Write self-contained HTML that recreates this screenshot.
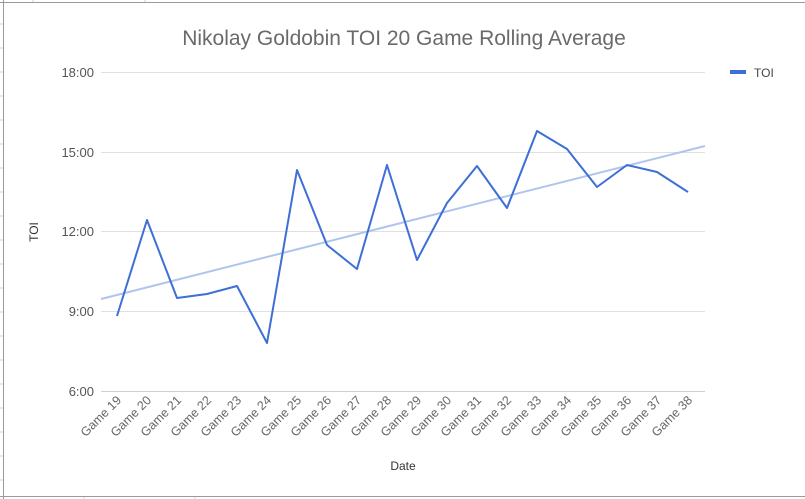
<!DOCTYPE html><html><head><style>body{margin:0;background:#fff}svg{display:block}text{font-family:"Liberation Sans",Arial,sans-serif}</style></head><body>
<svg width="805" height="499" viewBox="0 0 805 499">
<rect x="0" y="0" width="805" height="499" fill="#fff"/>
<path d="M3.5 0V499M0 2.5H805M0 496.5H805" stroke="#9a9a9a" stroke-width="1" fill="none"/>
<g stroke="#d0d0d0" stroke-width="1"><path d="M0 24H3M0 48H3M0 72H3M0 96H3M0 120H3M0 144H3M0 168H3M0 192H3M0 216H3M0 240H3M0 264H3M0 288H3M0 312H3M0 336H3M0 360H3M0 384H3M0 408H3M0 432H3M0 456H3M0 480H3M33 0V2M145 0V2M84 497V499M195 497V499"/></g>
<text x="404" y="45" text-anchor="middle" font-size="21" fill="#6a6a6a">Nikolay Goldobin TOI 20 Game Rolling Average</text>
<g stroke="#e0e0e0" stroke-width="1"><path d="M101 72.5H705M101 152.5H705M101 231.5H705M101 311.5H705"/></g>
<path d="M101 391.5H705" stroke="#cfcfcf"/>
<g font-size="13" fill="#555" text-anchor="end"><text x="94" y="77">18:00</text><text x="94" y="157">15:00</text><text x="94" y="236">12:00</text><text x="94" y="316">9:00</text><text x="94" y="396">6:00</text></g>
<text x="38" y="232" font-size="12" fill="#333" text-anchor="middle" transform="rotate(-90 38 232)">TOI</text>
<text x="403" y="470" font-size="12" fill="#333" text-anchor="middle">Date</text>
<line x1="101" y1="299" x2="705" y2="146" stroke="#b0c4ee" stroke-width="2"/>
<polyline fill="none" stroke="#3d6fd6" stroke-width="2" stroke-linejoin="round" points="117,316 147,220 177,298 207,294 237,286 267,343 297,170 327,245 357,269 387,165 417,260 447,203 477,166 507,208 537,131 567,149 597,187 627,165 657,172 688,192"/>
<g font-size="12.5" fill="#666" text-anchor="end">
<text transform="translate(122,401) rotate(-45)">Game 19</text><text transform="translate(152,401) rotate(-45)">Game 20</text><text transform="translate(182,401) rotate(-45)">Game 21</text><text transform="translate(212,401) rotate(-45)">Game 22</text><text transform="translate(242,401) rotate(-45)">Game 23</text><text transform="translate(272,401) rotate(-45)">Game 24</text><text transform="translate(302,401) rotate(-45)">Game 25</text><text transform="translate(332,401) rotate(-45)">Game 26</text><text transform="translate(362,401) rotate(-45)">Game 27</text><text transform="translate(392,401) rotate(-45)">Game 28</text><text transform="translate(422,401) rotate(-45)">Game 29</text><text transform="translate(452,401) rotate(-45)">Game 30</text><text transform="translate(482,401) rotate(-45)">Game 31</text><text transform="translate(512,401) rotate(-45)">Game 32</text><text transform="translate(542,401) rotate(-45)">Game 33</text><text transform="translate(572,401) rotate(-45)">Game 34</text><text transform="translate(602,401) rotate(-45)">Game 35</text><text transform="translate(632,401) rotate(-45)">Game 36</text><text transform="translate(662,401) rotate(-45)">Game 37</text><text transform="translate(693,401) rotate(-45)">Game 38</text>
</g>
<line x1="730" y1="72" x2="746" y2="72" stroke="#3d6fd6" stroke-width="4"/>
<text x="754" y="77" font-size="12" fill="#444">TOI</text>
</svg></body></html>
